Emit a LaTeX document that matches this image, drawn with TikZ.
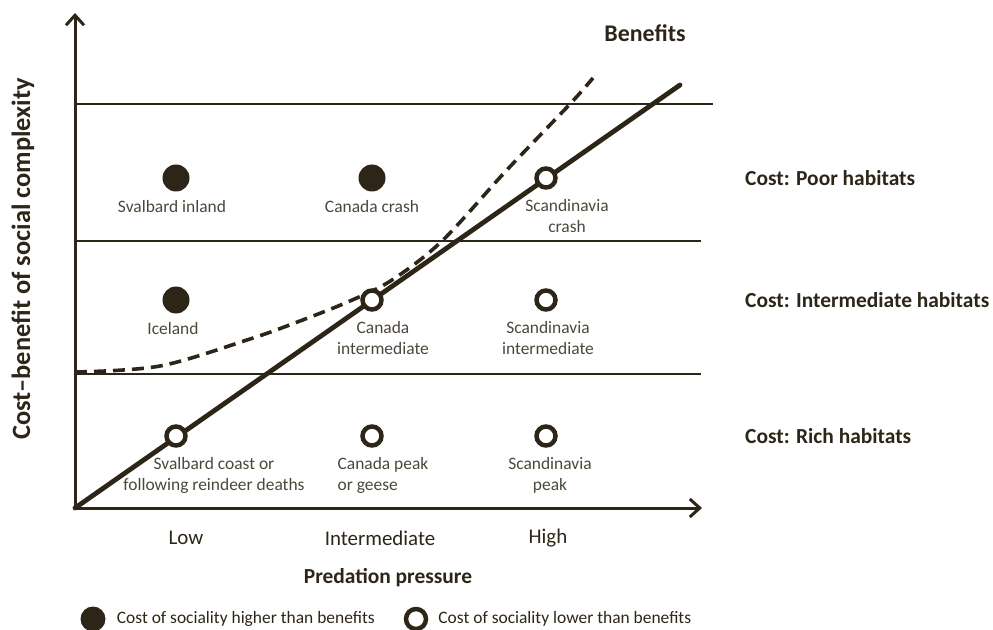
\documentclass[tikz,border=0pt]{standalone}
\usepackage{fontspec}
\setmainfont{Carlito}
\usetikzlibrary{
    arrows.meta,
    positioning
}
\definecolor{ink}{RGB}{45,38,24}
\tikzset{
    site/.style = {
        circle,
        draw=ink,
        line width=4.5bp,
        fill=white,
        minimum size=19bp,
        inner sep=0pt
    },
    hidense/.style = {
        circle,
        fill=ink,
        minimum size=27bp,
        inner sep=0pt
    },
    sitelabel/.style = {
        text=ink!85,
        font=\fontsize{17.5}{21.5}\selectfont,
        align=center,
        inner sep=0pt
    },
    axislabel/.style = {
        text=ink,
        font=\fontsize{21.5}{25}\selectfont\bfseries,
        inner sep=0pt
    },
    ticklabel/.style = {
        text=ink,
        font=\fontsize{21}{25}\selectfont,
        inner sep=0pt
    },
    keylabel/.style = {
        text=ink,
        font=\fontsize{17.5}{21}\selectfont,
        inner sep=0pt
    },
    band/.style = {
        draw=ink,
        line width=2.8bp
    },
    axis/.style = {
        draw=ink,
        line width=3bp,
        -{Straight Barb[length=10bp,width=18bp,line width=3bp]}
    },
    benefit/.style = {
        draw=ink,
        line width=4.8bp,
        line cap=round
    },
    benefitcurve/.style = {
        draw=ink,
        line width=3.6bp,
        dash pattern=on 12bp off 7bp
    }
}

\begin{document}
\begin{tikzpicture}[x=1bp, y=-1bp]
\useasboundingbox (0,0) rectangle (993,630);

% axes
\coordinate (origin) at (75,508);
\coordinate (ytip) at (75,13);
\coordinate (xtip) at (702,508);
\draw [axis] (origin) -- (ytip);
\draw [axis] (origin) -- (xtip);

% cost levels
\draw [band] (75,104) -- (713,104);
\draw [band] (75,241) -- (701,241);
\draw [band] (75,374) -- (701,374);

% benefit curves
\coordinate (bendtop) at (680,85);
\coordinate (dashstart) at (75,372);
\coordinate (dashtop) at (593,78);
\draw [benefit] (origin) -- (bendtop);
\draw [benefitcurve] plot[smooth, tension=0.55] coordinates {
    (dashstart) (160,366) (250,339) (300,321) (350,301) (392,280)
    (442,241) (505,172) (570,104) (dashtop)};

% populations
\node (svin) [hidense] at (176,178) {};
\node (cacr) [hidense] at (372,178) {};
\node (sccr) [site] at (546,178) {};
\node (icel) [hidense] at (176,300) {};
\node (cain) [site] at (372,300) {};
\node (scin) [site] at (546,300) {};
\node (svco) [site] at (176,436) {};
\node (cape) [site] at (372,436) {};
\node (scpe) [site] at (546,436) {};

\node (svinlab) [sitelabel, below=8bp of svin, xshift=-4bp] {Svalbard inland};
\node (cacrlab) [sitelabel, below=8bp of cacr] {Canada crash};
\node (sccrlab) [sitelabel, below=9bp of sccr, xshift=21bp] {Scandinavia\\crash};
\node (icellab) [sitelabel, below=8bp of icel, xshift=-3bp] {Iceland};
\node (cainlab) [sitelabel, below=9bp of cain, xshift=11bp] {Canada\\intermediate};
\node (scinlab) [sitelabel, below=9bp of scin, xshift=2bp] {Scandinavia\\intermediate};
\node (svcolab) [sitelabel, below=9bp of svco, xshift=38bp] {Svalbard coast or\\following reindeer deaths};
\node (capelab) [sitelabel, align=left, below=9bp of cape, xshift=11bp] {Canada peak\\or geese};
\node (scpelab) [sitelabel, below=9bp of scpe, xshift=4bp] {Scandinavia\\peak};

% habitat costs
\node (benefits) [axislabel, font=\fontsize{24}{28}\selectfont\bfseries] at (645,33) {Benefits};
\node (poor) [axislabel, anchor=west] at (745,178) {Cost: Poor habitats};
\node (inter) [axislabel, anchor=west] at (745,300) {Cost: Intermediate habitats};
\node (rich) [axislabel, anchor=west] at (745,436) {Cost: Rich habitats};

% axis labels
\node (low) [ticklabel] at (186,538) {Low};
\node (mid) [ticklabel] at (380,538) {Intermediate};
\node (high) [ticklabel] at (548,538) {High};
\node (xlab) [axislabel] at (388,578) {Predation pressure};
\node (ylab) [axislabel, font=\fontsize{26.5}{30}\selectfont\bfseries, rotate=90] at (23,259) {Cost–benefit of social complexity};

% key
\node (keyhigh) [hidense, minimum size=25bp] at (93,619) {};
\node (keyhighlab) [keylabel, right=11bp of keyhigh] {Cost of sociality higher than benefits};
\node (keylow) [site, minimum size=20bp] at (416,619) {};
\node (keylowlab) [keylabel, right=10bp of keylow] {Cost of sociality lower than benefits};
\end{tikzpicture}
\end{document}
